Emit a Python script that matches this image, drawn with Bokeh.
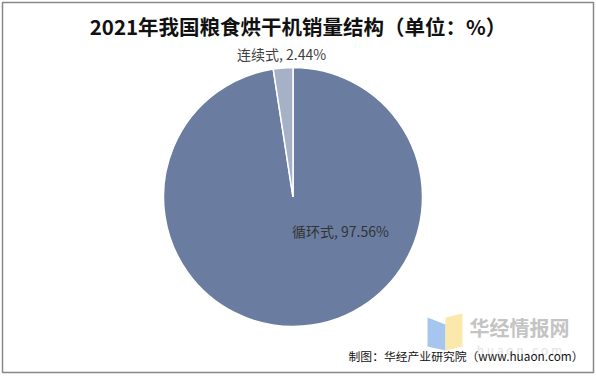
import math
from bokeh.plotting import figure
from bokeh.models import Range1d
from bokeh.core.properties import value
from bokeh.embed import file_html
from bokeh.resources import INLINE

# ---- data ----
categories = ["循环式", "连续式"]
shares = [97.56, 2.44]
colors = ["#6a7da1", "#a6b1c8"]
title_text = "2021年我国粮食烘干机销量结构（单位：%）"
source_text = "制图：华经产业研究院（www.huaon.com）"

W, H = 596, 377
p = figure(width=W, height=H, output_backend="svg", toolbar_location=None,
           x_range=Range1d(0, W), y_range=Range1d(0, H),
           min_border=0, min_border_left=0, min_border_right=0,
           min_border_top=0, min_border_bottom=0)
p.axis.visible = False
p.grid.visible = False
p.outline_line_color = None
p.background_fill_color = "white"
p.border_fill_color = "white"

def Y(y):
    return H - y

# outer border
p.quad(left=[2], right=[593], bottom=[Y(372)], top=[Y(2)],
       fill_color=None, line_color="#888888", line_width=1.5)

# pie
cx, cy, r = 292.5, Y(196.5), 129.5
total = sum(shares)
starts, ends = [], []
acc = 0.0
for s in shares:
    a0 = math.pi / 2 - 2 * math.pi * acc / total
    acc += s
    a1 = math.pi / 2 - 2 * math.pi * acc / total
    starts.append(a0)
    ends.append(a1)
p.wedge(x=[cx] * len(shares), y=[cy] * len(shares), radius=r,
        start_angle=starts, end_angle=ends, direction="clock",
        fill_color=colors, line_color="white", line_width=1.5)

font = value("Noto Sans CJK SC")
# labels
p.text(x=[281], y=[Y(53)], text=[f"{categories[1]}, {shares[1]:.2f}%"],
       text_font=font, text_font_size="14px", text_color="#404040",
       text_align="center", text_baseline="middle")
p.text(x=[340], y=[Y(230)], text=[f"{categories[0]}, {shares[0]:.2f}%"],
       text_font=font, text_font_size="14px", text_color="#333333",
       text_align="center", text_baseline="middle")

# title
p.text(x=[297.5], y=[Y(25)], text=[title_text],
       text_font=value("Noto Sans CJK SC"), text_font_size="20.5px",
       text_font_style="bold", text_color="#111111",
       text_align="center", text_baseline="middle")

# watermark logo
p.patch(x=[427, 445, 445, 427], y=[Y(317), Y(324), Y(350), Y(346)],
        fill_color="#9cc0ee", line_color=None, fill_alpha=0.9)
p.patch(x=[445, 462, 462, 445], y=[Y(317), Y(313), Y(346), Y(350)],
        fill_color="#fbe7a3", line_color=None, fill_alpha=0.9)
p.text(x=[519], y=[Y(327)], text=["华经情报网"], text_font=font,
       text_font_size="20px", text_font_style="bold", text_color="#c4c4c4",
       text_align="center", text_baseline="middle")
p.text(x=[519], y=[Y(349)], text=["h u a o n . c o m"], text_font=font,
       text_font_size="12px", text_color="#e2e2e2",
       text_align="center", text_baseline="middle")

# source
p.text(x=[583], y=[Y(355)], text=[source_text], text_font=font,
       text_font_size="11.8px", text_color="#111111",
       text_align="right", text_baseline="middle")

open("out.html", "w").write(file_html(p, INLINE))
